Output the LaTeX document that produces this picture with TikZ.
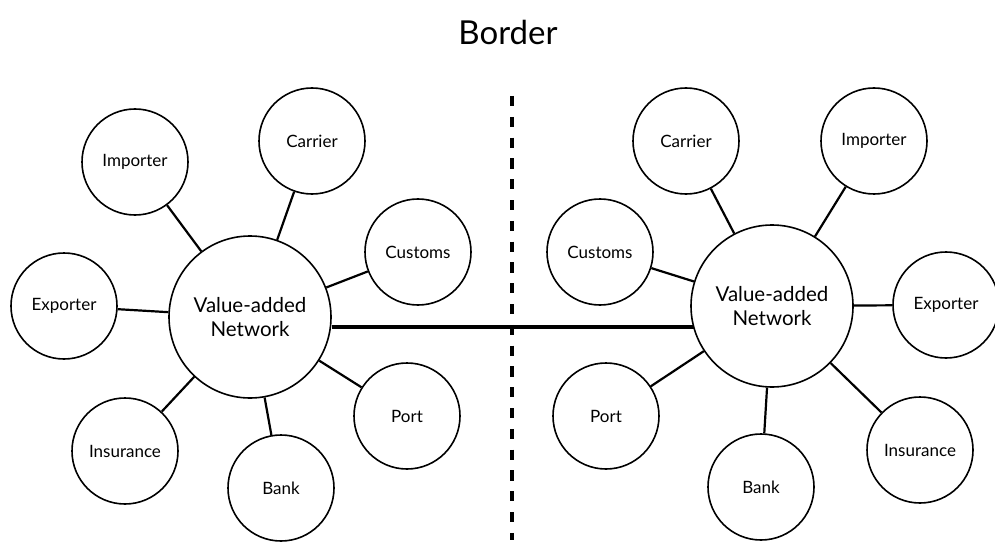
\documentclass[tikz,border=0pt]{standalone}
\usepackage{fontspec}
\setmainfont{Lato}
\begin{document}
\begin{tikzpicture}[x=1pt,y=-1pt,
  small/.style={circle,draw,line width=1.6pt,minimum size=106pt,inner sep=0pt,font=\fontsize{17}{19}\selectfont},
  hub/.style={circle,draw,line width=1.6pt,minimum size=162pt,inner sep=0pt,align=center,font=\fontsize{20.5}{24}\selectfont},
  link/.style={line width=2.2pt},
  trunk/.style={line width=4.2pt},
  borderline/.style={line width=4.5pt,dash pattern=on 10.2pt off 10.6pt}]
\useasboundingbox (0,0) rectangle (995,548);
\node[font=\fontsize{33}{36}\selectfont] (title) at (508,32) {Border};
% left cluster
\node[hub] (L) at (250,317) {Value-added\\Network};
\node[small] (Limp) at (135,162) {Importer};
\node[small] (Lcar) at (312,141) {Carrier};
\node[small] (Lcus) at (418,252) {Customs};
\node[small] (Lexp) at (64,306) {Exporter};
\node[small] (Lins) at (125,451) {Insurance};
\node[small] (Lban) at (281,488) {Bank};
\node[small] (Lpor) at (407,416) {Port};
% right cluster
\node[hub] (R) at (772,306) {Value-added\\Network};
\node[small] (Rcar) at (686,141) {Carrier};
\node[small] (Rimp) at (874,141) {Importer};
\node[small] (Rcus) at (600,252) {Customs};
\node[small] (Rexp) at (946,305) {Exporter};
\node[small] (Rpor) at (606,416) {Port};
\node[small] (Rban) at (761,487) {Bank};
\node[small] (Rins) at (920,450) {Insurance};
% connectors
\foreach \n in {Limp,Lcar,Lcus,Lexp,Lins,Lban,Lpor} \draw[link] (L) -- (\n);
\foreach \n in {Rimp,Rcar,Rcus,Rexp,Rins,Rban,Rpor} \draw[link] (R) -- (\n);
% trunk
\coordinate (ta) at (331,327);
\coordinate (tb) at (694,327);
\draw[trunk] (L.east |- ta) -- (tb);
% border
\coordinate (b1) at (512,96);
\coordinate (b2) at (512,540);
\draw[borderline] (b1) -- (b2);
\end{tikzpicture}
\end{document}
